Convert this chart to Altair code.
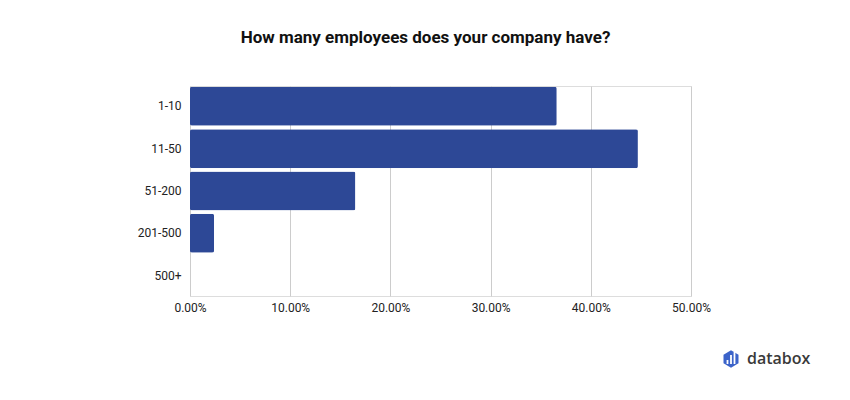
import altair as alt
import pandas as pd

categories = ["1-10", "11-50", "51-200", "201-500", "500+"]
shares = [0.366, 0.447, 0.165, 0.024, 0.0]
tick_values = [0.0, 0.1, 0.2, 0.3, 0.4, 0.5]

df = pd.DataFrame({"size": categories, "share": shares})

bars = alt.Chart(df).mark_bar(color="#2D4896", cornerRadius=2).encode(
    y=alt.Y("size:N", sort=categories, title=None,
            scale=alt.Scale(paddingInner=0.08, paddingOuter=0.02),
            axis=alt.Axis(labelFont="Roboto", labelFontSize=12, labelColor="#222222",
                          labelPadding=9, ticks=False, domain=False, grid=False)),
    x=alt.X("share:Q", title=None,
            scale=alt.Scale(domain=[0, 0.5]),
            axis=alt.Axis(format=".2%", values=tick_values, labelFont="Roboto",
                          labelFontSize=12, labelColor="#222222", labelPadding=6,
                          labelFlush=False, labelAlign="center",
                          ticks=False, domain=False, grid=True, gridColor="#CCCCCC",
                          gridWidth=1)),
)

logo_df = pd.DataFrame({"t": ["databox"]})
logo_text = alt.Chart(logo_df).mark_text(
    font="Open Sans", fontSize=16, fontWeight=600, color="#3A3A3A",
    align="left", baseline="middle"
).encode(x=alt.value(557), y=alt.value(273), text="t:N")

hexagon = alt.Chart(logo_df).mark_point(
    shape="M0,-1L0.866,-0.5L0.866,0.5L0,1L-0.866,0.5L-0.866,-0.5Z",
    filled=True, color="#3B63C9", opacity=1, size=300
).encode(x=alt.value(541), y=alt.value(273))

bar_df = pd.DataFrame({"bx": [537.5, 541, 544.5], "top": [274, 269, 266]})
icon_bars = alt.Chart(bar_df).mark_rule(color="white", strokeWidth=1.8).encode(
    x=alt.X("bx:Q", scale=None), y=alt.Y("top:Q", scale=None), y2=alt.value(278)
)

chart = alt.layer(bars, hexagon, icon_bars, logo_text).properties(
    width=501, height=210,
    title=alt.TitleParams("How many employees does your company have?",
                          font="Roboto", fontSize=17, fontWeight="bold",
                          color="#111111", anchor="middle", dx=-15, offset=39),
    autosize=alt.AutoSizeParams(type="none"),
    padding={"left": 190, "top": 86, "right": 159, "bottom": 104},
).configure_view(strokeWidth=0).configure(background="white")

chart.save("out.html", embed_options={"renderer": "svg", "actions": False})
